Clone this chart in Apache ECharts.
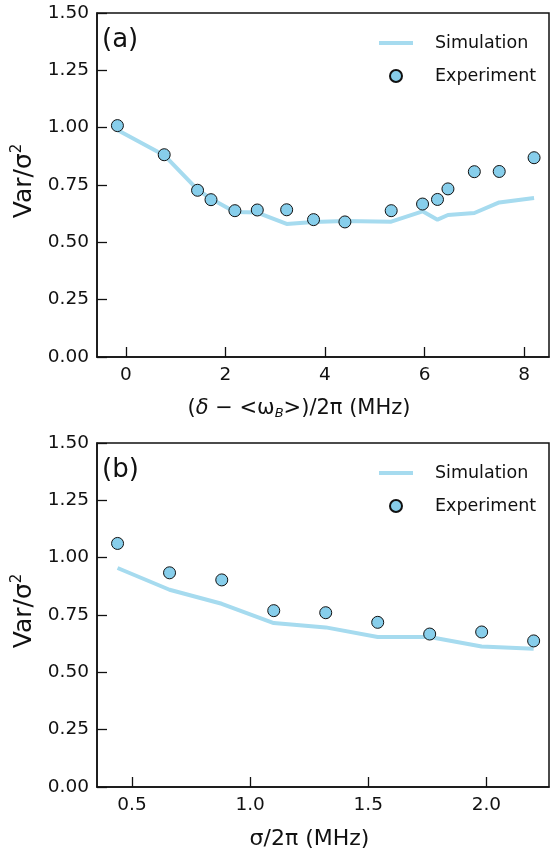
<!DOCTYPE html>
<html>
<head>
<meta charset="utf-8">
<script src="https://cdn.jsdelivr.net/npm/echarts@6/dist/echarts.min.js"></script>
<style>
html,body{margin:0;padding:0;background:#fff;}
#chart{width:550px;height:853px;}
</style>
</head>
<body>
<div id="chart"></div>
<script>
// Panel (a): detuning scan
const detuning = [-0.17, 0.77, 1.44, 1.71, 2.19, 2.64, 3.23, 3.77, 4.40, 5.33, 5.96, 6.26, 6.47, 7.00, 7.50, 8.20];
const expA = [1.009, 0.882, 0.727, 0.686, 0.638, 0.641, 0.642, 0.599, 0.589, 0.638, 0.667, 0.687, 0.733, 0.808, 0.809, 0.869];
const simA = [0.990, 0.880, 0.730, 0.690, 0.632, 0.630, 0.580, 0.589, 0.593, 0.590, 0.635, 0.599, 0.619, 0.628, 0.674, 0.693];
const xTicksA = [0, 2, 4, 6, 8];

// Panel (b): sigma scan
const sigma = [0.439, 0.659, 0.880, 1.10, 1.32, 1.54, 1.76, 1.98, 2.20];
const expB = [1.062, 0.934, 0.903, 0.769, 0.760, 0.718, 0.667, 0.676, 0.637];
const simB = [0.955, 0.860, 0.799, 0.715, 0.696, 0.654, 0.654, 0.613, 0.603];
const xTicksB = [0.5, 1.0, 1.5, 2.0];

const FONT = 'DejaVu Sans';
const lineColor = '#a6dbef';
const dotColor = '#87ceeb';
const INK = '#111';

const chart = echarts.init(document.getElementById('chart'), null, {renderer: 'canvas'});

function yAxis(idx) {
  return {
    type: 'value', gridIndex: idx, min: 0, max: 1.5, interval: 0.25,
    name: 'Var/σ{sup|2}', nameLocation: 'middle', nameGap: 56,
    nameTextStyle: {fontFamily: FONT, fontSize: 25, color: INK, padding: [0, 0, 0, 8],
      rich: {sup: {fontFamily: FONT, fontSize: 15, verticalAlign: 'top', padding: [0,0,14,0], color: INK}}},
    axisLine: {show: true, onZero: false, lineStyle: {color: INK, width: 1.5}},
    axisTick: {show: true, inside: true, length: 10, lineStyle: {color: INK, width: 1.3}},
    axisLabel: {fontFamily: FONT, fontSize: 18.5, color: INK, margin: 8,
      formatter: v => v.toFixed(2)},
    splitLine: {show: false}
  };
}

function xAxis(idx, min, max, ticks, fmt, name, fs, rich, pad) {
  return {
    type: 'value', gridIndex: idx, min: min, max: max,
    name: name, nameLocation: 'middle', nameGap: 41,
    nameTextStyle: {fontFamily: FONT, fontSize: fs, color: INK, rich: rich, padding: pad},
    axisLine: {show: true, onZero: false, lineStyle: {color: INK, width: 1.5}},
    axisTick: {show: true, inside: true, length: 10, customValues: ticks, lineStyle: {color: INK, width: 1.3}},
    axisLabel: {fontFamily: FONT, fontSize: 18.5, color: INK, margin: 9, customValues: ticks, formatter: fmt},
    splitLine: {show: false}
  };
}

const richA = {
  it: {fontFamily: FONT, fontSize: 21, fontStyle: 'italic', color: INK},
  sub: {fontFamily: FONT, fontSize: 13, fontStyle: 'italic', color: INK, verticalAlign: 'bottom', padding: [9,0,0,0]}
};

function legend(top) {
  return {
    orient: 'vertical', left: 377, top: top, padding: 0, itemWidth: 34, itemHeight: 12, itemGap: 13,
    textStyle: {fontFamily: FONT, fontSize: 17.5, color: INK, padding: [0,0,0,17], lineHeight: 20},
    data: [
      {name: 'Simulation', itemStyle: {opacity: 0}, lineStyle: {width: 4, color: lineColor}},
      {name: 'Experiment', icon: 'circle'}
    ]
  };
}

const option = {
  animation: false,
  backgroundColor: '#fff',
  grid: [
    {left: 97, right: 1, top: 13, height: 344, show: true, borderColor: INK, borderWidth: 1.5, backgroundColor: 'transparent'},
    {left: 97, right: 1, top: 443, height: 344, show: true, borderColor: INK, borderWidth: 1.5, backgroundColor: 'transparent'}
  ],
  legend: [legend(33), legend(463)],
  xAxis: [
    xAxis(0, -0.58, 8.5, xTicksA, v => String(v),
      '({it|δ} − <ω{sub|B}>)/2π (MHz)', 21, richA, [0, 48, 0, 0]),
    xAxis(1, 0.352, 2.265, xTicksB, v => v.toFixed(1),
      'σ/2π (MHz)', 22, {}, [0, 27, 0, 0])
  ],
  yAxis: [yAxis(0), yAxis(1)],
  series: [
    {name: 'Simulation', type: 'line', xAxisIndex: 0, yAxisIndex: 0, symbol: 'none',
      lineStyle: {color: lineColor, width: 4}, itemStyle: {color: lineColor},
      data: detuning.map((x, i) => [x, simA[i]]), z: 2},
    {name: 'Experiment', type: 'scatter', xAxisIndex: 0, yAxisIndex: 0, symbolSize: 12,
      itemStyle: {color: dotColor, borderColor: INK, borderWidth: 1, opacity: 1},
      data: detuning.map((x, i) => [x, expA[i]]), z: 3},
    {name: 'Simulation', type: 'line', xAxisIndex: 1, yAxisIndex: 1, symbol: 'none',
      lineStyle: {color: lineColor, width: 4}, itemStyle: {color: lineColor},
      data: sigma.map((x, i) => [x, simB[i]]), z: 2},
    {name: 'Experiment', type: 'scatter', xAxisIndex: 1, yAxisIndex: 1, symbolSize: 12,
      itemStyle: {color: dotColor, borderColor: INK, borderWidth: 1, opacity: 1},
      data: sigma.map((x, i) => [x, expB[i]]), z: 3}
  ],
  graphic: [
    {type: 'text', left: 102, top: 27, style: {text: '(a)', fontFamily: FONT, fontSize: 26, fill: INK}},
    {type: 'text', left: 102, top: 457, style: {text: '(b)', fontFamily: FONT, fontSize: 26, fill: INK}}
  ]
};
chart.setOption(option);
</script>
</body>
</html>
